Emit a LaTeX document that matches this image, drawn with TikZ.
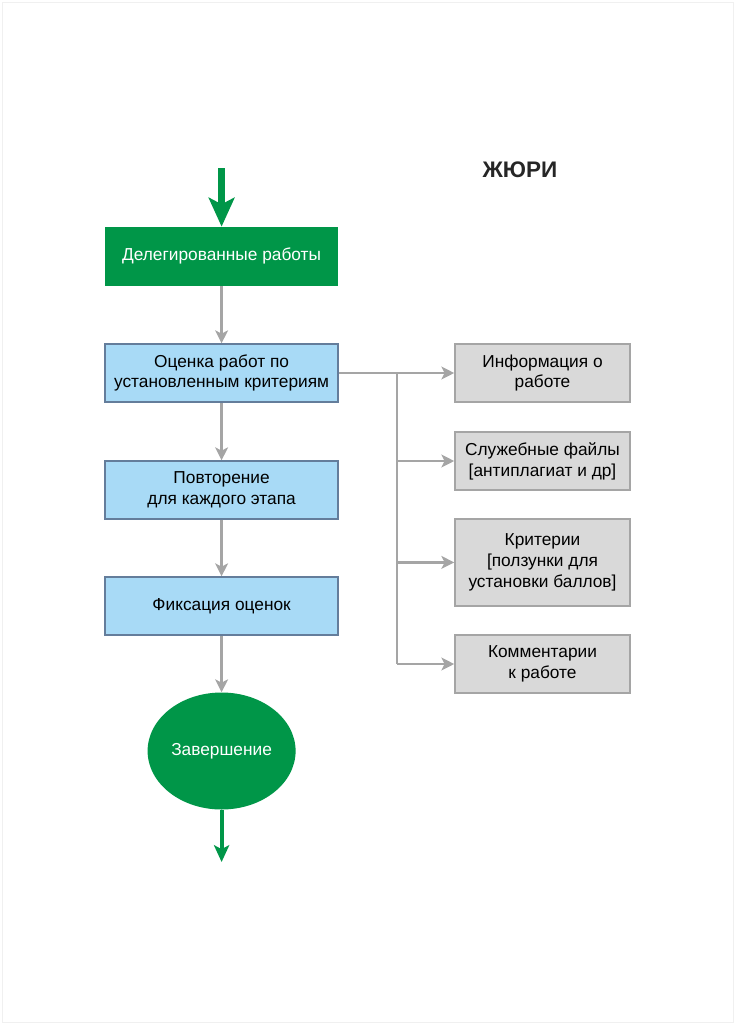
\documentclass[tikz,border=0pt]{standalone}
\usepackage{fontspec}
\setmainfont{Liberation Sans}
\usepackage{tikz}
\usetikzlibrary{arrows.meta, positioning, shapes.geometric}
\definecolor{juryGreen}{RGB}{0, 150, 72}
\definecolor{stepBlue}{RGB}{168, 218, 246}
\definecolor{stepBorder}{RGB}{100, 125, 155}
\definecolor{infoGray}{RGB}{217, 217, 217}
\definecolor{infoBorder}{RGB}{165, 165, 165}
\definecolor{linkGray}{RGB}{165, 165, 165}

\begin{document}
\begin{tikzpicture}[
    nodebox/.style={rectangle, minimum width=5.825cm, minimum height=1.45cm,
                 align=center, font=\fontsize{12.3}{14.8}\selectfont, inner sep=2pt},
    start/.style={nodebox, fill=juryGreen, text=white, minimum height=1.475cm},
    stepbox/.style={nodebox, fill=stepBlue, draw=stepBorder, line width=1.1pt},
    info/.style={nodebox, fill=infoGray, draw=infoBorder, line width=1.1pt,
                 minimum width=4.375cm},
    finish/.style={ellipse, fill=juryGreen, text=white, minimum width=3.7cm,
                 minimum height=2.925cm, inner sep=0pt,
                 font=\fontsize{12.3}{14.8}\selectfont},
    arrow/.style={-{Stealth[length=0.32cm, width=0.32cm, inset=0.08cm]},
                 line width=1.9pt, linkGray},
    flowin/.style={-{Stealth[length=0.72cm, width=0.64cm, inset=0.16cm]},
                 line width=5pt, juryGreen},
    flowout/.style={-{Stealth[length=0.42cm, width=0.38cm, inset=0.1cm]},
                 line width=2.9pt, juryGreen},
  ]
    \useasboundingbox (0,0) rectangle (18.375,-25.6);
    \draw[black!6, line width=0.6pt] (0.05,-0.05) rectangle (18.325,-25.55);

    % Title
    \node[font=\fontsize{16}{19}\selectfont\bfseries, text=black!85] (title) at (13.0,-4.25) {ЖЮРИ};

    % Delegated works
    \node[start] (deleg) at (5.54,-6.41) {Делегированные работы};

    % Steps
    \node[stepbox] (assess) at (5.54,-9.325) {Оценка работ по\\установленным критериям};
    \node[stepbox] (repeat) at (5.54,-12.25) {Повторение\\для каждого этапа};
    \node[stepbox] (fix) at (5.54,-15.15) {Фиксация оценок};

    % End
    \node[finish] (done) at (5.54,-18.775) {Завершение};

    % Information boxes
    \node[info] (about) at (13.5625,-9.325) {Информация о\\работе};
    \node[info] (files) at (13.5625,-11.525) {Служебные файлы\\{[}антиплагиат и др{]}};
    \node[info, minimum height=2.175cm] (crit) at (13.5625,-14.06)
      {Критерии\\{[}ползунки для\\установки баллов{]}};
    \node[info] (notes) at (13.5625,-16.6) {Комментарии\\к работе};

    % Entry and exit
    \coordinate (in) at (5.54,-4.2);
    \coordinate (out) at (5.54,-21.55);
    \coordinate (trunk) at (9.925,-9.325);

    % Arrows
    \draw[flowin] (in) -- (deleg.north);
    \draw[arrow] (deleg) -- (assess);
    \draw[arrow] (assess) -- (repeat);
    \draw[arrow] (repeat) -- (fix);
    \draw[arrow] (fix) -- (done);
    \draw[flowout] (done.south) -- (out);

    \draw[arrow] (assess) -- (about);
    \draw[linkGray, line width=1.9pt] (trunk) -- (trunk |- notes);
    \draw[arrow] (trunk |- files) -- (files);
    \draw[arrow] (trunk |- crit) -- (crit);
    \draw[arrow] (trunk |- notes) -- (notes);
  \end{tikzpicture}
\end{document}
